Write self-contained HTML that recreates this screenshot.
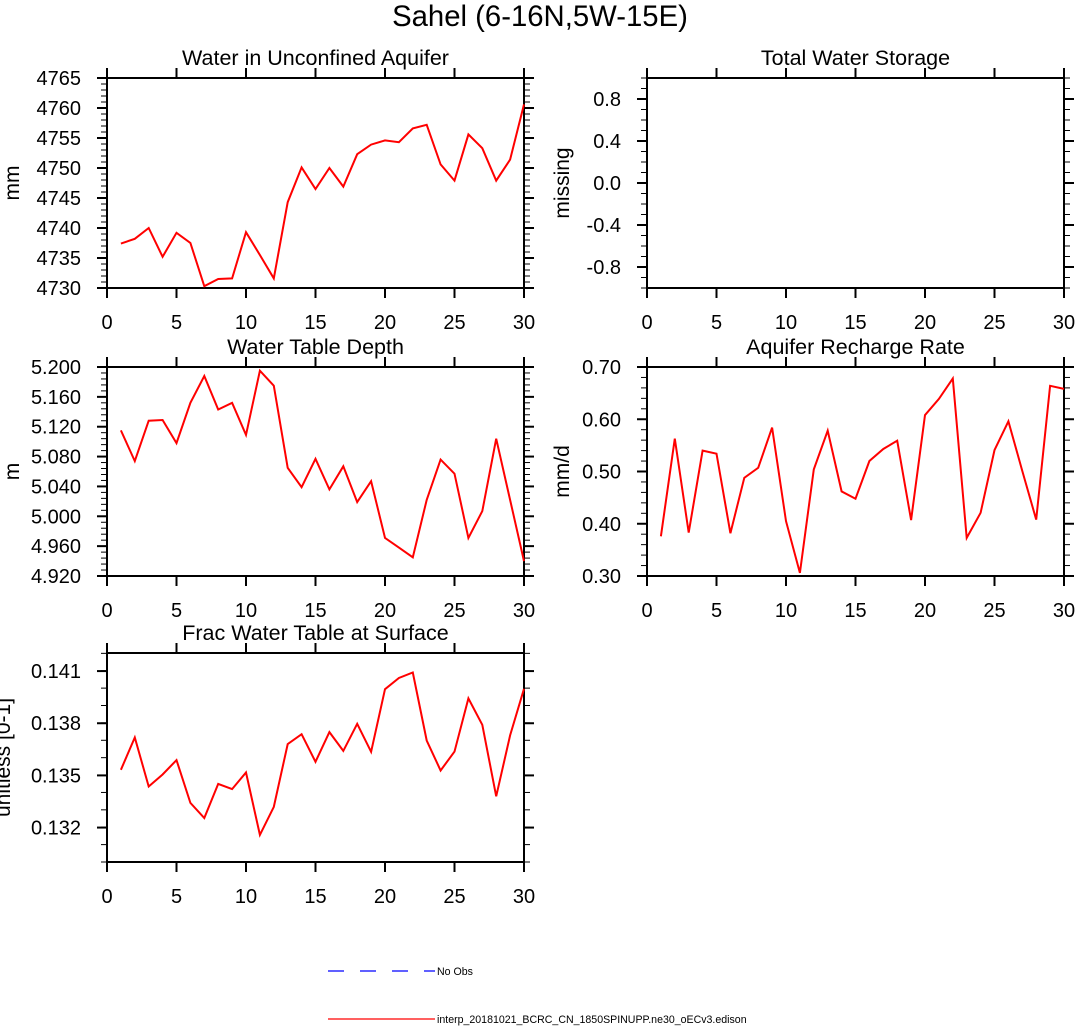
<!DOCTYPE html>
<html><head><meta charset="utf-8"><style>
body{margin:0;background:#fff;}
svg{display:block;font-family:"Liberation Sans",Arial,sans-serif;}
</style></head><body>
<svg id="fig" width="1075" height="1026" viewBox="0 0 1075 1026" xmlns="http://www.w3.org/2000/svg">
<rect width="1075" height="1026" fill="#fff"/>
<text x="540" y="26" font-size="29.3" text-anchor="middle">Sahel (6-16N,5W-15E)</text>
<g>
<line x1="328" y1="971" x2="435" y2="971" stroke="#0000ff" stroke-width="1.2" stroke-dasharray="16,16"/>
<text x="437" y="975" font-size="10.6">No Obs</text>
<line x1="328" y1="1019" x2="435" y2="1019" stroke="#ff0000" stroke-width="1.2"/>
<text x="437" y="1023" font-size="10.6">interp_20181021_BCRC_CN_1850SPINUPP.ne30_oECv3.edison</text>
</g>
</svg>
<script>
const xs = [1,2,3,4,5,6,7,8,9,10,11,12,13,14,15,16,17,18,19,20,21,22,23,24,25,26,27,28,29,30];
const xTicks = [0,5,10,15,20,25,30];
const aquiferWater = [4737.4,4738.2,4740.0,4735.2,4739.2,4737.5,4730.3,4731.5,4731.6,4739.3,4735.5,4731.6,4744.3,4750.1,4746.5,4750.0,4746.9,4752.3,4753.9,4754.6,4754.3,4756.6,4757.2,4750.6,4747.9,4755.6,4753.3,4747.9,4751.4,4760.6];
const waterTableDepth = [5.115,5.074,5.128,5.129,5.098,5.152,5.188,5.143,5.152,5.109,5.195,5.175,5.065,5.039,5.077,5.036,5.067,5.019,5.047,4.971,4.958,4.945,5.022,5.076,5.057,4.971,5.007,5.104,5.022,4.940];
const rechargeRate = [0.376,0.563,0.383,0.540,0.534,0.382,0.488,0.507,0.584,0.405,0.306,0.504,0.578,0.462,0.448,0.520,0.543,0.559,0.407,0.608,0.639,0.678,0.373,0.421,0.541,0.596,0.501,0.408,0.664,0.658];
const fracSurface = [0.13532,0.13718,0.13436,0.13505,0.13588,0.13342,0.13255,0.13451,0.13421,0.13517,0.13158,0.13319,0.13680,0.13737,0.13578,0.13749,0.13641,0.13797,0.13636,0.13996,0.1406,0.14092,0.13701,0.13528,0.13637,0.13943,0.13791,0.1338,0.1373,0.13998];
const ticks1 = ["4730","4735","4740","4745","4750","4755","4760","4765"];
const ticks2 = ["-0.8","-0.4","0.0","0.4","0.8"];
const ticks3 = ["4.920","4.960","5.000","5.040","5.080","5.120","5.160","5.200"];
const ticks4 = ["0.30","0.40","0.50","0.60","0.70"];
const ticks5 = ["0.132","0.135","0.138","0.141"];

const NS="http://www.w3.org/2000/svg";
const svg=document.getElementById('fig');
function mk(tag,attrs,parent){const e=document.createElementNS(NS,tag);for(const k in attrs)e.setAttribute(k,attrs[k]);parent.appendChild(e);return e;}

function panel(o){
  const g=mk('g',{},svg);
  
  
  const L=o.x0,R=o.x1,T=o.y0,B=o.y1;
  const sx=v=>L+(v-0)/(30-0)*(R-L);
  const sy=v=>B-(v-o.ymin)/(o.ymax-o.ymin)*(B-T);
  const nMin=Math.round((o.ymax-o.ymin)/o.minor);
  for(let i=0;i<=nMin;i++){
    const v=o.ymin+i*o.minor; const y=sy(v);
    const t1=mk('line',{x1:L-6,y1:y,x2:L,y2:y,stroke:'#000','stroke-width':1},g);
    
    
    const t2=mk('line',{x1:R,y1:y,x2:R+6,y2:y,stroke:'#000','stroke-width':1},g);
    
    
  }
  o.ticks.forEach(lab=>{
    const y=sy(parseFloat(lab));
    const t1=mk('line',{x1:L-10,y1:y,x2:L,y2:y,stroke:'#000','stroke-width':2},g);
    
    
    const t2=mk('line',{x1:R,y1:y,x2:R+10,y2:y,stroke:'#000','stroke-width':2},g);
    
    
    const tx=mk('text',{x:L-26,y:y+7,'font-size':20,'text-anchor':'end'},g);
    tx.textContent=lab;
    
    
  });
  xTicks.forEach(v=>{
    const x=sx(v);
    const t1=mk('line',{x1:x,y1:B,x2:x,y2:B+10,stroke:'#000','stroke-width':2},g);
    
    
    const t2=mk('line',{x1:x,y1:T-10,x2:x,y2:T,stroke:'#000','stroke-width':2},g);
    
    
    const tx=mk('text',{x:x,y:B+41,'font-size':20,'text-anchor':'middle'},g);
    tx.textContent=String(v);
    
    
  });
  const box=mk('rect',{x:L,y:T,width:R-L,height:B-T,fill:'none',stroke:'#000','stroke-width':2},g);
  
  
  const ti=mk('text',{x:(L+R)/2,y:T-13,'font-size':21.5,'text-anchor':'middle'},g);
  ti.textContent=o.title;
  
  
  const cy=(T+B)/2;
  const yl=mk('text',{x:o.ylx,y:cy,'font-size':21,'text-anchor':'middle',transform:`rotate(-90 ${o.ylx} ${cy})`},g);
  yl.textContent=o.ylabel;
  
  
  if(o.data){
    const d=o.data.map((v,i)=>(i?'L':'M')+sx(xs[i]).toFixed(1)+' '+sy(v).toFixed(1)).join(' ');
    const p=mk('path',{d:d,fill:'none',stroke:'#ff0000','stroke-width':2,'stroke-linejoin':'miter'},g);
    
    
  }
}
panel({name:'panel-unconfined-aquifer',x0:107,x1:524,y0:78,y1:288,ymin:4730,ymax:4765,minor:1,ticks:ticks1,title:'Water in Unconfined Aquifer',ylabel:'mm',ylx:19,data:aquiferWater});
panel({name:'panel-total-water-storage',x0:647,x1:1064,y0:78,y1:288,ymin:-1,ymax:1,minor:0.1,ticks:ticks2,title:'Total Water Storage',ylabel:'missing',ylx:569,data:null});
panel({name:'panel-water-table-depth',x0:107,x1:524,y0:367,y1:576,ymin:4.92,ymax:5.2,minor:0.008,ticks:ticks3,title:'Water Table Depth',ylabel:'m',ylx:19,data:waterTableDepth});
panel({name:'panel-aquifer-recharge',x0:647,x1:1064,y0:367,y1:576,ymin:0.3,ymax:0.7,minor:0.02,ticks:ticks4,title:'Aquifer Recharge Rate',ylabel:'mm/d',ylx:569,data:rechargeRate});
panel({name:'panel-frac-water-table',x0:107,x1:524,y0:653,y1:862,ymin:0.13002,ymax:0.14204,minor:0.001,ticks:ticks5,title:'Frac Water Table at Surface',ylabel:'unitless [0-1]',ylx:10,data:fracSurface});
</script>
</body></html>
